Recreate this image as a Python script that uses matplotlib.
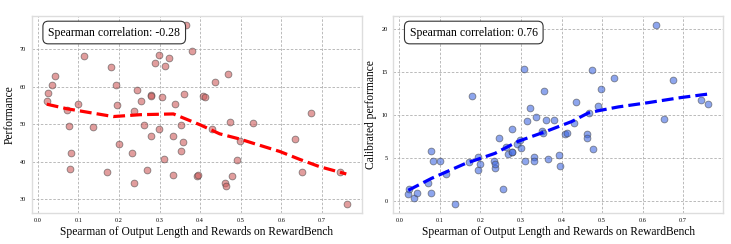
import numpy as np
import matplotlib
matplotlib.use("Agg")
import matplotlib.pyplot as plt

# spearman(output length, reward) on RewardBench, one entry per model
spearman_len = [0.022, 0.024, 0.035, 0.043, 0.071, 0.077, 0.079, 0.082, 0.099, 0.114,
                0.137, 0.171, 0.180, 0.193, 0.194, 0.200, 0.233, 0.236, 0.237, 0.245,
                0.255, 0.262, 0.268, 0.279, 0.279, 0.279, 0.289, 0.298, 0.299, 0.307,
                0.310, 0.314, 0.323, 0.332, 0.332, 0.337, 0.352, 0.354, 0.357, 0.361,
                0.366, 0.381, 0.393, 0.395, 0.408, 0.413, 0.430, 0.436, 0.462, 0.463,
                0.468, 0.474, 0.478, 0.491, 0.498, 0.529, 0.633, 0.652, 0.674, 0.745,
                0.761]
performance = [56.2, 58.4, 60.5, 62.8, 53.75, 49.6, 38.0, 42.4, 55.5, 68.2,
               49.4, 37.4, 65.2, 60.6, 55.1, 44.8, 42.4, 53.6, 34.4, 59.2,
               56.2, 49.8, 37.9, 47.0, 57.9, 57.7, 66.3, 68.5, 48.75, 57.3,
               40.8, 65.5, 67.8, 36.4, 46.8, 55.5, 43.0, 49.8, 45.3, 58.1,
               76.5, 69.6, 36.3, 36.4, 57.5, 57.2, 48.75, 61.4, 34.3, 33.7,
               63.4, 50.6, 36.25, 40.6, 45.7, 50.4, 46.2, 37.4, 53.1, 37.4,
               28.9]
calibrated = [0.74, 1.36, 0.27, 0.94, 2.07, 0.94, 5.73, 4.64, 4.64, 3.12,
              -0.35, 4.44, 12.12, 3.59, 5.11, 4.21, 4.60, 3.82, 4.21, 7.29,
              1.36, 6.20, 5.38, 5.69, 8.38, 5.6, 6.59, 7.06, 6.16, 15.36,
              4.64, 9.24, 10.76, 5.11, 4.64, 9.67, 8.15, 7.9, 12.75, 9.43,
              4.87, 9.43, 5.30, 4.02, 7.72, 7.91, 9.0, 11.46, 7.72, 7.29,
              10.14, 15.17, 5.96, 11.03, 12.98, 14.27, 20.43, 9.47, 14.07, 11.66,
              11.23]

# smoothed trend curves
trend_x_left = [0.022, 0.071, 0.186, 0.252, 0.334, 0.350, 0.400, 0.448, 0.498, 0.530,
                0.596, 0.645, 0.694, 0.760]
trend_left = [55.4, 54.2, 52.1, 52.6, 52.8, 52.1, 49.9, 47.5, 46.1, 45.0,
              42.8, 40.7, 38.75, 36.8]
trend_x_right = [0.022, 0.080, 0.162, 0.236, 0.293, 0.359, 0.425, 0.466, 0.490, 0.540,
                 0.614, 0.696, 0.762]
trend_right = [1.2, 2.6, 4.3, 5.5, 6.9, 8.0, 9.2, 10.2, 10.45, 10.9,
               11.4, 12.0, 12.4]

plt.rcParams['font.family'] = ['Liberation Serif', 'DejaVu Serif']

fig = plt.figure(figsize=(7.31, 2.44), dpi=100)
ax1 = fig.add_axes([0.0434, 0.129, 0.4514, 0.805])
ax2 = fig.add_axes([0.538, 0.129, 0.4515, 0.805])

panels = [
    (ax1, performance, trend_x_left, trend_left, 'indianred', 'red', 'Performance', -0.28),
    (ax2, calibrated, trend_x_right, trend_right, 'royalblue', 'blue', 'Calibrated performance', 0.76),
]

for ax, yvals, tx, ty, c, lc, ylab, rho in panels:
    ax.scatter(spearman_len, yvals, s=24, color=c, alpha=0.6, edgecolors='#444444',
               linewidths=0.6, zorder=3)
    ax.plot(tx, ty, color=lc, linestyle='--', linewidth=2.3, zorder=4)
    ax.grid(True, linestyle=(0, (3, 2)), color='#b0b0b0', linewidth=0.6, zorder=0)
    ax.set_axisbelow(True)
    for sp in ax.spines.values():
        sp.set_color('#dddddd')
        sp.set_linewidth(1.0)
    ax.tick_params(labelsize=4.5, length=0, pad=4)
    ax.set_xlabel('Spearman of Output Length and Rewards on RewardBench', fontsize=8.3, labelpad=2)
    ax.set_ylabel(ylab, fontsize=8.3, labelpad=3)
    ax.set_xticks(np.arange(0, 0.71, 0.1))
    ax.text(0.05, 0.947, f'Spearman correlation: {rho:.2f}', transform=ax.transAxes,
            fontsize=8.5, va='top', ha='left', zorder=5,
            bbox=dict(boxstyle='round,pad=0.45', facecolor='white', edgecolor='#333333',
                      linewidth=0.8))

ax2.set_yticks([0, 5, 10, 15, 20])

fig.savefig('out.png', dpi=100)
